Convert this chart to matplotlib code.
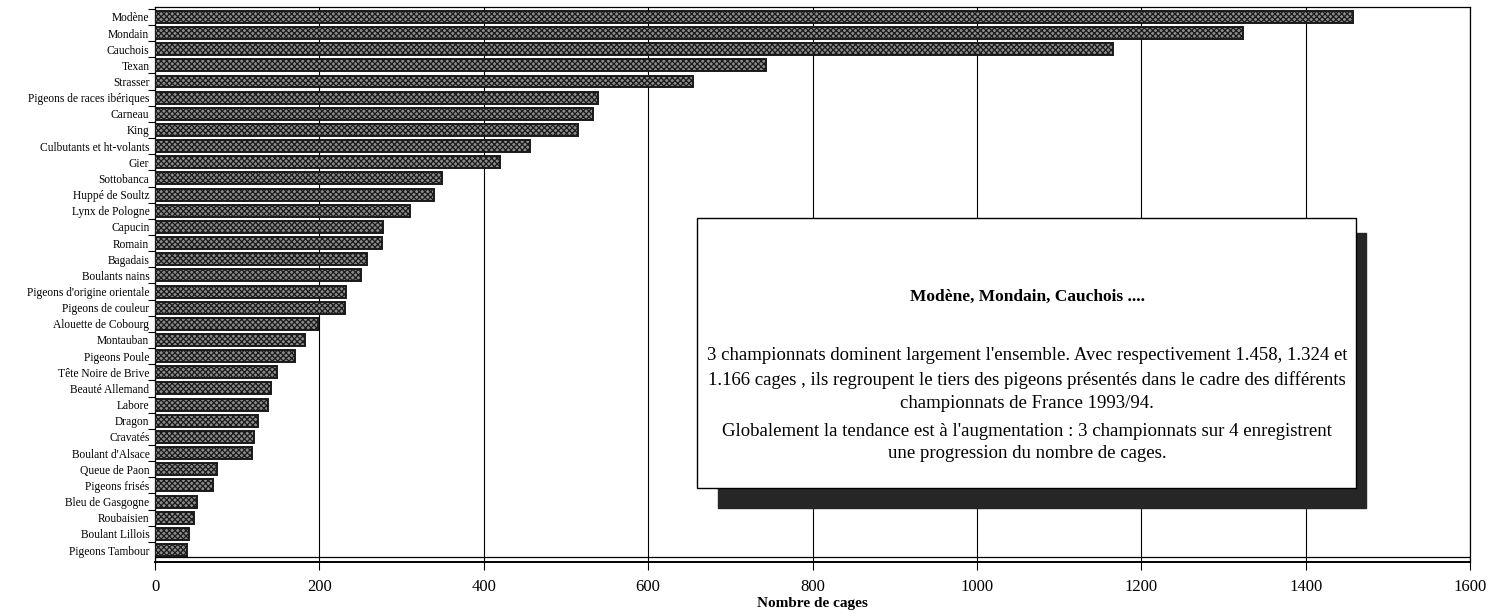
""" Nombre de cages par championnat de France 1993/94 """
import matplotlib
matplotlib.use("Agg")
import matplotlib.pyplot as plt
from matplotlib.patches import Rectangle

# Championnats, du plus grand au plus petit
races = [
    "Modène", "Mondain", "Cauchois", "Texan", "Strasser",
    "Pigeons de races ibériques", "Carneau", "King", "Culbutants et ht-volants",
    "Gier", "Sottobanca", "Huppé de Soultz", "Lynx de Pologne", "Capucin",
    "Romain", "Bagadais", "Boulants nains", "Pigeons d'origine orientale",
    "Pigeons de couleur", "Alouette de Cobourg", "Montauban", "Pigeons Poule",
    "Tête Noire de Brive", "Beauté Allemand", "Labore", "Dragon", "Cravatés",
    "Boulant d'Alsace", "Queue de Paon", "Pigeons frisés", "Bleu de Gasgogne",
    "Roubaisien", "Boulant Lillois", "Pigeons Tambour",
]
cages = [
    1458, 1324, 1166, 743, 655,
    539, 533, 515, 456,
    420, 349, 340, 310, 277,
    276, 258, 251, 233,
    231, 198, 182, 170,
    148, 141, 137, 125, 120,
    118, 76, 71, 51,
    47, 41, 39,
]
x_ticks = [0, 200, 400, 600, 800, 1000, 1200, 1400, 1600]

box_title = "Modène, Mondain, Cauchois ...."
box_lines = [
    "3 championnats dominent largement l'ensemble. Avec respectivement 1.458, 1.324 et",
    "1.166 cages , ils regroupent le tiers des pigeons présentés dans le cadre des différents",
    "championnats de France 1993/94.",
    "Globalement la tendance est à l'augmentation : 3 championnats sur 4 enregistrent",
    "une progression du nombre de cages.",
]

plt.rcParams["font.family"] = ["Liberation Serif", "DejaVu Serif"]
plt.rcParams["hatch.linewidth"] = 0.9
plt.rcParams["hatch.color"] = "#1a1a1a"

fig = plt.figure(figsize=(15.04, 6.16), dpi=100)
ax = fig.add_axes([155 / 1504, 1 - 562 / 616, (1470 - 155) / 1504, (562 - 7) / 616])

pos = list(range(len(races)))
ax.barh(pos, cages, height=0.74, color="#8c8c8c", hatch="xxxxxx",
        edgecolor="#1a1a1a", linewidth=1.4, zorder=3)

ax.set_xlim(0, 1600)
ax.set_ylim(33.74, -0.61)
ax.set_xticks(x_ticks)
ax.set_xticklabels([str(t) for t in x_ticks], fontsize=12)
ax.tick_params(axis="x", direction="out", length=6, width=0.8, pad=6)

# categories with small ticks between the bars
ax.set_yticks(pos)
ax.set_yticklabels(races, fontsize=8.3)
ax.tick_params(axis="y", which="major", length=0, pad=4)
ax.set_yticks([p + 0.5 for p in pos[:-1]] + [-0.5], minor=True)
ax.tick_params(axis="y", which="minor", length=5, width=0.8)

ax.grid(axis="x", color="black", linewidth=0.8, zorder=1)
for side in ["top", "right", "left"]:
    ax.spines[side].set_linewidth(0.9)
ax.spines["bottom"].set_linewidth(1.4)
# floor line of the pseudo 3D chart
ax.axhline(33.45, color="black", linewidth=0.9, zorder=4)

ax.set_xlabel("Nombre de cages", fontsize=11, fontweight="bold", labelpad=2)

# comment box with shadow
fig.patches.append(Rectangle((718 / 1504, 1 - 508 / 616), 648 / 1504, 275 / 616,
                             transform=fig.transFigure, facecolor="#262626",
                             edgecolor="#262626", zorder=5))
fig.patches.append(Rectangle((697 / 1504, 1 - 488 / 616), 659 / 1504, 270 / 616,
                             transform=fig.transFigure, facecolor="white",
                             edgecolor="black", linewidth=1.0, zorder=6))

cx = 1027 / 1504
fig.text(cx, 1 - 297 / 616, box_title, ha="center", va="center",
         fontsize=12.5, fontweight="bold", zorder=7)
line_y = [356, 380, 403, 431, 454]
for txt, y in zip(box_lines, line_y):
    fig.text(cx, 1 - y / 616, txt, ha="center", va="center", fontsize=13.5, zorder=7)

fig.savefig("out.png", dpi=100, facecolor="white")
